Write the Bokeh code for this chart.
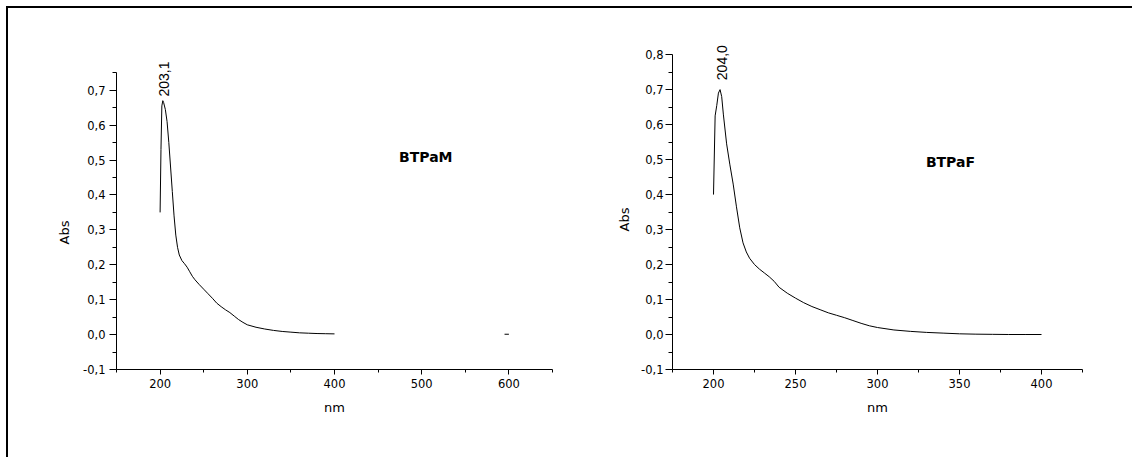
import math
from bokeh.plotting import figure
from bokeh.layouts import row
from bokeh.models import Range1d, FixedTicker
from bokeh.core.properties import value
from bokeh.embed import file_html
from bokeh.resources import INLINE

# ---------------- data ----------------
# Left spectrum: BTPaM
m_nm = [200, 201, 202, 203.1, 204, 206, 208, 210, 212, 214, 216, 218, 220, 222, 225, 228,
        231, 234, 237, 240, 245, 250, 255, 260, 265, 270, 275, 280, 285, 290, 295, 300,
        310, 320, 330, 340, 350, 360, 370, 380, 390, 400]
m_abs = [0.35, 0.53, 0.655, 0.67, 0.665, 0.645, 0.61, 0.55, 0.48, 0.41, 0.34, 0.285, 0.25, 0.228,
         0.212, 0.203, 0.193, 0.18, 0.167, 0.157, 0.143, 0.13, 0.117, 0.104, 0.09, 0.08, 0.071,
         0.063, 0.053, 0.043, 0.035, 0.028, 0.021, 0.016, 0.012, 0.009, 0.007, 0.005, 0.004,
         0.003, 0.0025, 0.002]
m_stray_nm = [595, 600]
m_stray_abs = [0.001, 0.001]
m_peak_nm = 203.1
m_peak_label = "203,1"
m_name = "BTPaM"

# Right spectrum: BTPaF
f_nm = [200, 201, 202, 203, 204, 205, 206, 208, 210, 212, 214, 216, 218, 220, 222, 225, 228,
        231, 234, 237, 240, 245, 250, 255, 260, 265, 270, 275, 280, 285, 290, 295, 300, 310,
        320, 330, 340, 350, 360, 370, 380, 390, 400]
f_abs = [0.40, 0.625, 0.655, 0.69, 0.70, 0.68, 0.63, 0.545, 0.485, 0.43, 0.365, 0.305, 0.262,
         0.236, 0.218, 0.2, 0.187, 0.176, 0.165, 0.152, 0.135, 0.118, 0.104, 0.091, 0.08, 0.071,
         0.062, 0.055, 0.048, 0.04, 0.032, 0.025, 0.02, 0.013, 0.009, 0.006, 0.004, 0.002, 0.001,
         0.0005, 0.0, 0.0, 0.0]
f_peak_nm = 204.0
f_peak_label = "204,0"
f_name = "BTPaF"

x_title = "nm"
y_title = "Abs"

# ticks
m_x_major = [200, 300, 400, 500, 600]
m_x_minor = [150, 250, 350, 450, 550, 650]
m_y_major = [-0.1, 0.0, 0.1, 0.2, 0.3, 0.4, 0.5, 0.6, 0.7]
m_y_labels = ["-0,1", "0,0", "0,1", "0,2", "0,3", "0,4", "0,5", "0,6", "0,7"]
m_y_minor = [-0.05, 0.05, 0.15, 0.25, 0.35, 0.45, 0.55, 0.65, 0.75]

f_x_major = [200, 250, 300, 350, 400]
f_x_minor = [175, 225, 275, 325, 375, 425]
f_y_major = [-0.1, 0.0, 0.1, 0.2, 0.3, 0.4, 0.5, 0.6, 0.7, 0.8]
f_y_labels = ["-0,1", "0,0", "0,1", "0,2", "0,3", "0,4", "0,5", "0,6", "0,7", "0,8"]
f_y_minor = [-0.05, 0.05, 0.15, 0.25, 0.35, 0.45, 0.55, 0.65, 0.75]

TICK_FONT = "DejaVu Sans"
LABEL_FONT = "DejaVu Sans"
EM = "\u2003"  # em space: shifts the (centred) y title down along the axis


def style(p, xmaj, xmin, ymaj, ylab, ymin, ybounds, y_pad, ylab_std, ytitle_std):
    p.grid.visible = False
    p.outline_line_color = None
    p.background_fill_color = "white"
    p.border_fill_color = "white"
    p.xaxis.ticker = FixedTicker(ticks=xmaj, minor_ticks=xmin)
    p.yaxis.ticker = FixedTicker(ticks=ymaj, minor_ticks=ymin)
    p.yaxis.major_label_overrides = {t: l for t, l in zip(ymaj, ylab)}
    p.yaxis.bounds = ybounds
    for ax in (p.xaxis[0], p.yaxis[0]):
        ax.axis_line_color = "black"
        ax.axis_line_width = 1
        ax.major_tick_line_color = "black"
        ax.minor_tick_line_color = "black"
        ax.major_tick_in = 0
        ax.minor_tick_in = 0
        ax.major_label_text_color = "black"
        ax.major_label_text_font = TICK_FONT
        ax.major_label_text_font_size = "11.5px"
        ax.axis_label_text_color = "black"
        ax.axis_label_text_font = LABEL_FONT
        ax.axis_label_text_font_size = "13px"
        ax.axis_label_text_font_style = "normal"
    p.yaxis.major_tick_out = 7
    p.yaxis.minor_tick_out = 4
    p.xaxis.major_tick_out = 5
    p.xaxis.minor_tick_out = 3
    p.yaxis.major_label_standoff = ylab_std
    p.xaxis.major_label_standoff = 4
    p.yaxis.axis_label_standoff = ytitle_std
    p.xaxis.axis_label_standoff = 9
    p.xaxis.axis_label = x_title
    p.yaxis.axis_label = y_title + EM * y_pad


H = 449
TOP = 22
BOTTOM = 88

# ---------------- left figure ----------------
p1 = figure(width=580, height=H, output_backend="svg", toolbar_location=None,
            x_range=Range1d(150, 650), y_range=Range1d(-0.1, 0.871),
            min_border_left=108, min_border_right=36, min_border_top=TOP, min_border_bottom=BOTTOM)
style(p1, m_x_major, m_x_minor, m_y_major, m_y_labels, m_y_minor, (-0.1, 0.75), 5, 4, 8)
p1.line(m_nm, m_abs, line_color="black", line_width=1)
p1.line(m_stray_nm, m_stray_abs, line_color="black", line_width=1)
m_pk = m_abs[m_nm.index(m_peak_nm)]
p1.text(x=[m_peak_nm + 1.2], y=[m_pk + 0.012], text=[m_peak_label], angle=math.pi / 2,
        text_align="left", text_baseline="middle", text_color="black",
        text_font=value("Liberation Sans"), text_font_size="14px")
p1.text(x=[474], y=[0.508], text=[m_name], text_align="left", text_baseline="middle",
        text_color="black", text_font=value(LABEL_FONT), text_font_style="bold",
        text_font_size="14px")

# ---------------- right figure ----------------
p2 = figure(width=544, height=H, output_backend="svg", toolbar_location=None,
            x_range=Range1d(175, 425), y_range=Range1d(-0.1, 0.869),
            min_border_left=84, min_border_right=50, min_border_top=TOP, min_border_bottom=BOTTOM)
style(p2, f_x_major, f_x_minor, f_y_major, f_y_labels, f_y_minor, (-0.1, 0.8), 3, 2, 6)
p2.line(f_nm, f_abs, line_color="black", line_width=1)
f_pk = f_abs[f_nm.index(f_peak_nm)]
p2.text(x=[f_peak_nm + 1.0], y=[f_pk + 0.027], text=[f_peak_label], angle=math.pi / 2,
        text_align="left", text_baseline="middle", text_color="black",
        text_font=value("Liberation Sans"), text_font_size="14px")
p2.text(x=[329.5], y=[0.492], text=[f_name], text_align="left", text_baseline="middle",
        text_color="black", text_font=value(LABEL_FONT), text_font_style="bold",
        text_font_size="14px")

layout = row(p1, p2, styles={"border-top": "2px solid black", "border-left": "2px solid black",
                             "margin-left": "6px", "margin-top": "6px"})

open("out.html", "w").write(file_html(layout, INLINE))
